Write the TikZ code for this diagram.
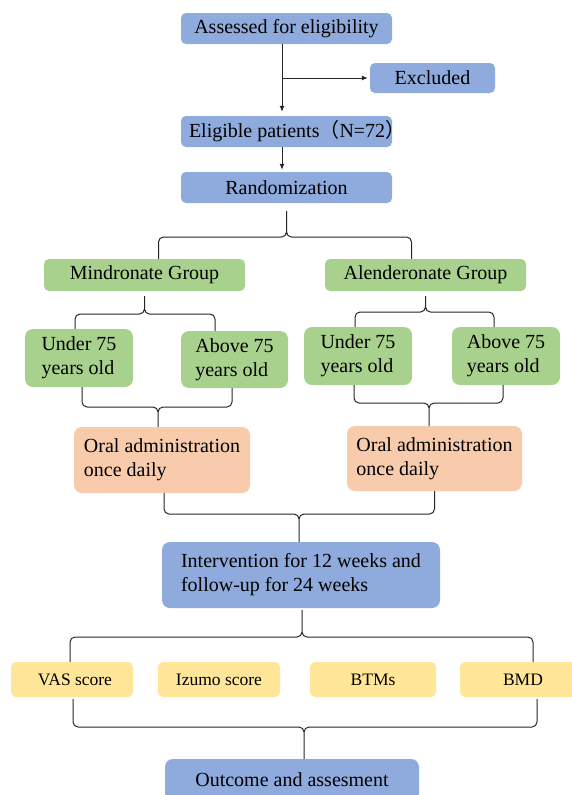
\documentclass[tikz,border=0pt]{standalone}
\usepackage{fontspec}
\setmainfont{Liberation Serif}
\newfontfamily\cjk{Noto Sans CJK SC}
\usetikzlibrary{arrows.meta}
\definecolor{boxblue}{RGB}{143,170,220}
\definecolor{boxgreen}{RGB}{169,209,142}
\definecolor{boxorange}{RGB}{248,203,173}
\definecolor{boxyellow}{RGB}{255,230,153}

\begin{document}
\begin{tikzpicture}[x=1pt,y=-1pt,
    box/.style={inner sep=0pt,rounded corners=5pt,align=left,font=\fontsize{20}{24}\selectfont},
    bluebox/.style={box,fill=boxblue},
    greenbox/.style={box,fill=boxgreen},
    orangebox/.style={box,fill=boxorange,rounded corners=8pt},
    yellowbox/.style={box,fill=boxyellow,font=\fontsize{17.5}{21}\selectfont},
    link/.style={line width=1pt,black!85,rounded corners=5pt},
    arrow/.style={line width=1pt,black!85,-{Latex[length=6pt,width=5pt]}}]
    \clip (0,0) rectangle (572,795);
    % boxes
    \node[bluebox,minimum width=211pt,minimum height=31pt] (assess) at (286.5,28.5) {Assessed for eligibility};
    \node[bluebox,minimum width=125pt,minimum height=30pt] (excl) at (432.5,78) {Excluded};
    \node[bluebox,minimum width=211pt,minimum height=31pt] (elig) at (286.5,131.5) {\makebox[211pt][l]{\hspace{8pt}Eligible patients{\cjk（}N=72{\cjk）}}};
    \node[bluebox,minimum width=211pt,minimum height=31pt] (rand) at (286.5,187.5) {Randomization};
    \node[greenbox,minimum width=201pt,minimum height=32pt] (mind) at (144.5,275) {Mindronate Group};
    \node[greenbox,minimum width=201pt,minimum height=32pt] (alen) at (425.5,275) {Alenderonate Group};
    \node[greenbox,rounded corners=8pt,minimum width=108pt,minimum height=58pt] (un1) at (79,358) {Under 75\\years old};
    \node[greenbox,rounded corners=8pt,minimum width=107pt,minimum height=57pt] (ab1) at (234.5,359.5) {Above 75\\years old};
    \node[greenbox,rounded corners=8pt,minimum width=108pt,minimum height=58pt] (un2) at (358,356) {Under 75\\years old};
    \node[greenbox,rounded corners=8pt,minimum width=108pt,minimum height=58pt] (ab2) at (506,356) {Above 75\\years old};
    \node[orangebox,minimum width=176pt,minimum height=66pt] (oral1) at (162,460) {Oral administration\\once daily};
    \node[orangebox,minimum width=175pt,minimum height=65pt] (oral2) at (434.5,458.5) {Oral administration\\once daily};
    \node[bluebox,rounded corners=8pt,minimum width=278pt,minimum height=66pt] (interv) at (301,575) {Intervention for 12 weeks and\\follow-up for 24 weeks};
    \node[yellowbox,minimum width=122pt,minimum height=35pt] (vas) at (72,679.5) {\hspace{6pt}VAS score};
    \node[yellowbox,minimum width=122pt,minimum height=35pt] (izumo) at (219,679.5) {Izumo score};
    \node[yellowbox,minimum width=126pt,minimum height=35pt] (btms) at (373,679.5) {BTMs};
    \node[yellowbox,minimum width=126pt,minimum height=35pt] (bmd) at (523,679.5) {BMD};
    \node[bluebox,rounded corners=8pt,minimum width=254pt,minimum height=42pt] (outc) at (292,780) {Outcome and assesment};
    % joints
    \coordinate (jx) at (282,78);
    \coordinate (jr) at (286.5,237);
    \coordinate (jm) at (144.5,314);
    \coordinate (ja) at (425.5,312);
    \coordinate (jo1) at (158,407);
    \coordinate (jo2) at (429,403);
    \coordinate (ji) at (299,514);
    \coordinate (jv) at (302,637);
    \coordinate (jc) at (304,727);
    % arrows
    \draw[arrow,shorten >=4pt] ([xshift=-4.5pt]assess.south) -- ([xshift=-4.5pt]elig.north);
    \draw[arrow,shorten >=2pt] (jx) -- (excl.west);
    \draw[arrow,shorten >=2pt] ([xshift=-4.5pt]elig.south) -- ([xshift=-4.5pt]rand.north);
    % braces
    \draw[link] ([yshift=-8pt]rand.south) -- (jr) -| ([xshift=14pt]mind.north)
                ([yshift=-8pt]rand.south) -- (jr) -| ([xshift=-14pt]alen.north);
    \draw[link] ([yshift=-5pt]mind.south) -- (jm) -| ([xshift=-4pt]un1.north)
                ([yshift=-5pt]mind.south) -- (jm) -| ([xshift=-19.5pt]ab1.north);
    \draw[link] ([yshift=-5pt]alen.south) -- (ja) -| ([xshift=-3pt]un2.north)
                ([yshift=-5pt]alen.south) -- (ja) -| ([xshift=-12pt]ab2.north);
    \draw[link] ([xshift=3pt]un1.south) |- (jo1) -- ([xshift=-4pt]oral1.north)
                ([xshift=-2.5pt]ab1.south) |- (jo1) -- ([xshift=-4pt]oral1.north);
    \draw[link] ([xshift=-4pt]un2.south) |- (jo2) -- ([xshift=-5.5pt]oral2.north)
                ([xshift=-3pt]ab2.south) |- (jo2) -- ([xshift=-5.5pt]oral2.north);
    \draw[link] ([xshift=2pt]oral1.south) |- (ji) -- ([xshift=-2pt]interv.north)
                (oral2.south) |- (ji) -- ([xshift=-2pt]interv.north);
    \draw[link] ([xshift=1pt,yshift=-2pt]interv.south) -- (jv) -| ([xshift=-2pt]vas.north)
                ([xshift=1pt,yshift=-2pt]interv.south) -- (jv) -| ([xshift=10pt]bmd.north);
    \draw[link] ([xshift=1pt,yshift=-2pt]vas.south) |- (jc) -- ([xshift=12pt]outc.north)
                ([xshift=14pt,yshift=-2pt]bmd.south) |- (jc) -- ([xshift=12pt]outc.north);
\end{tikzpicture}
\end{document}
